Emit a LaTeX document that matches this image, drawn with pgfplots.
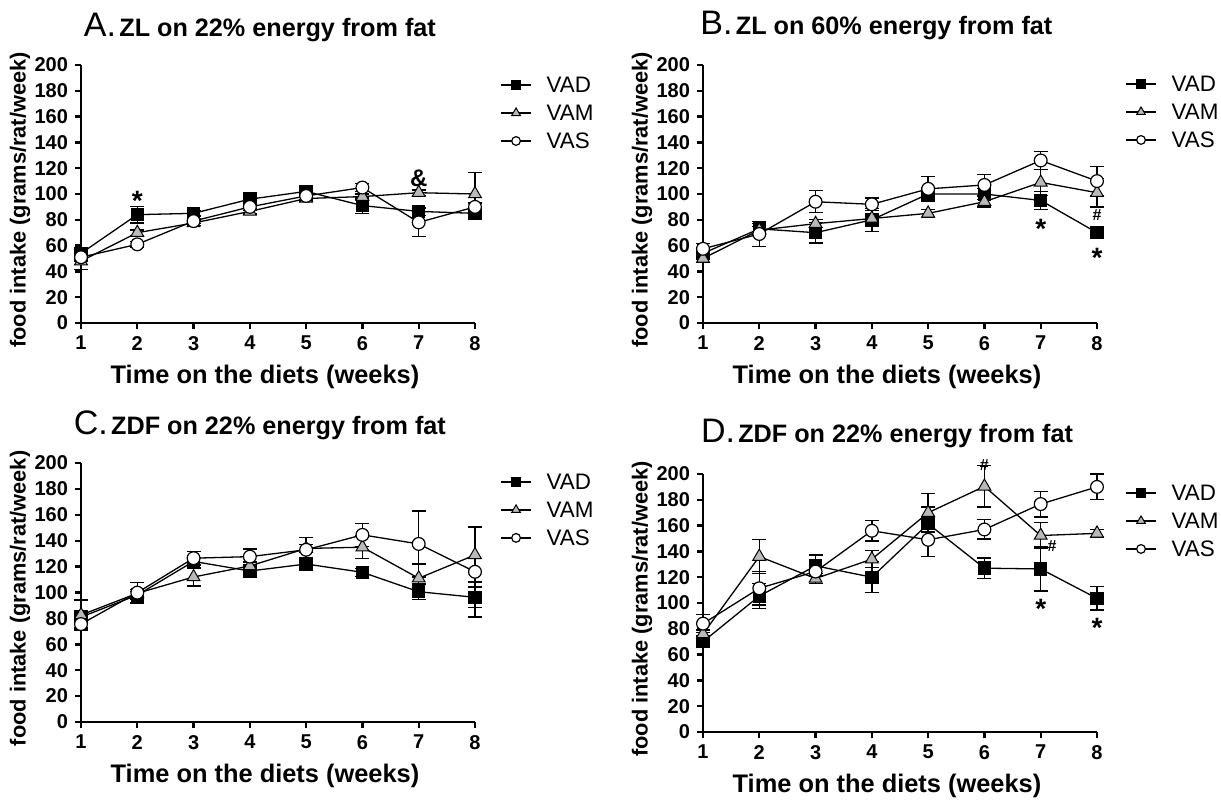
\documentclass[border=0pt]{standalone}
\usepackage{fontspec}
\setmainfont{Liberation Sans}
\usepackage{pgfplots}
\pgfplotsset{compat=1.18}
\pgfplotsset{
  panel/.style={
    scale only axis, width=197pt, height=129pt, anchor=south west,
    xmin=1, xmax=8, ymin=0, ymax=200,
    axis x line*=bottom, axis y line*=left,
    axis line style={line width=1.2pt},
    xtick={1,...,8}, ytick={0,20,...,200},
    tick align=outside, major tick length=3pt,
    major tick style={line width=1.2pt, black},
    ticklabel style={font=\bfseries\fontsize{10}{11}\selectfont},
    /pgf/number format/assume math mode=true,
    xlabel={Time on the diets (weeks)},
    ylabel={food intake (grams/rat/week)},
    xlabel style={font=\bfseries\fontsize{12.7}{14}\selectfont, at={(axis description cs:0.467,0)}, anchor=base, yshift=-30pt},
    ylabel style={font=\bfseries\fontsize{10.9}{12}\selectfont, at={(axis description cs:-0.1548,0.477)}, anchor=center},
    clip=false,
    legend cell align=left,
    legend style={draw=none, fill=none, font=\fontsize{11.2}{13}\selectfont, anchor=west, inner sep=0pt, row sep=6pt,
      nodes={inner sep=0pt, text height=8pt, text depth=0pt},
      /tikz/every odd column/.append style={column sep=7.5pt}},
    legend image code/.code={\draw[line width=0.65pt, mark repeat=2, mark phase=2, ##1, every mark/.append style={scale=0.68}] plot coordinates {(0pt,0pt) (7.5pt,0pt) (15pt,0pt)};},
  },
  eb/.style={line width=0.65pt, black, error bars/y dir=both, error bars/y explicit,
    error bars/error bar style={line width=0.65pt},
    error bars/error mark options={line width=0.65pt, mark size=3.5pt, rotate=90}},
  vad/.style={eb, mark=square*, mark size=3.1pt, mark options={fill=black, draw=black, line width=0.5pt}},
  vam/.style={eb, mark=triangle*, mark size=3.7pt, mark options={fill=gray!55, draw=black, line width=0.5pt}},
  vas/.style={eb, mark=*, mark size=3.2pt, mark options={fill=white, draw=black, line width=0.6pt}},
}
\newcommand{\ttl}[2]{{\fontsize{17}{18}\selectfont #1}\,{\bfseries\fontsize{12.6}{14}\selectfont #2}}
\begin{document}
\begin{tikzpicture}
\path[use as bounding box] (0,0) rectangle (610.5pt,399.5pt);
% ---------------- A
\begin{axis}[panel, at={(40.5pt,238pt)},
  title={\ttl{A.}{ZL on 22\% energy from fat}},
  title style={at={(axis description cs:0.454,1)}, anchor=base, yshift=8.5pt},
  legend style={at={(axis description cs:1.0635,0.814)}}]
\addplot[vad] coordinates {(1,54) +- (0,3) (2,84) +- (0,6.5) (3,85) +- (0,2) (4,96) +- (0,2) (5,102) +- (0,2) (6,91) +- (0,6) (7,86.5) +- (0,3) (8,85) +- (0,3)};
\addlegendentry{VAD}
\addplot[vam] coordinates {(1,48) +- (0,6.4) (2,70) +- (0,2) (3,77.5) +- (0,2) (4,86.5) +- (0,2) (5,96.5) +- (0,2) (6,98) +- (0,2) (7,101) +- (0,2) (8,100) +- (0,16.6)};
\addlegendentry{VAM}
\addplot[vas] coordinates {(1,51) +- (0,3) (2,61) +- (0,2) (3,79) +- (0,2) (4,90) +- (0,3) (5,98.5) +- (0,3) (6,105) +- (0,3) (7,78) +- (0,11) (8,90) +- (0,3)};
\addlegendentry{VAS}
\node[font=\bfseries\fontsize{14}{14}\selectfont, yshift=-3pt] at (axis cs:2,99) {*};
\node[font=\bfseries\fontsize{12}{12}\selectfont] at (axis cs:7,112) {\&};
\end{axis}
% ---------------- B
\begin{axis}[panel, at={(351.5pt,238pt)},
  title={\ttl{B.}{ZL on 60\% energy from fat}},
  title style={at={(axis description cs:0.44,1)}, anchor=base, yshift=9.5pt},
  legend style={at={(axis description cs:1.071,0.818)}}]
\addplot[vad] coordinates {(1,54) +- (0,3) (2,73) +- (0,4) (3,70) +- (0,8) (4,80) +- (0,9) (5,100) +- (0,5) (6,100) +- (0,4) (7,95) +- (0,7) (8,70) +- (0,3)};
\addlegendentry{VAD}
\addplot[vam] coordinates {(1,50) +- (0,3) (2,72) +- (0,3) (3,77) +- (0,3) (4,81) +- (0,3) (5,85) +- (0,3) (6,94) +- (0,4) (7,109) +- (0,10) (8,101) +- (0,11)};
\addlegendentry{VAM}
\addplot[vas] coordinates {(1,57.5) +- (0,4) (2,69) +- (0,9.5) (3,94) +- (0,8.5) (4,92) +- (0,5) (5,104) +- (0,9.5) (6,107) +- (0,8) (7,126) +- (0,7) (8,110) +- (0,11.5)};
\addlegendentry{VAS}
\node[font=\bfseries\fontsize{14}{14}\selectfont, yshift=-3pt] at (axis cs:7,78) {*};
\node[font=\bfseries\fontsize{14}{14}\selectfont, yshift=-3pt] at (axis cs:8,55) {*};
\node[font=\bfseries\fontsize{8}{8}\selectfont] at (axis cs:8,84) {\#};
\end{axis}
% ---------------- C
\begin{axis}[panel, at={(40.5pt,38.5pt)}, height=129.5pt,
  title={\ttl{C.}{ZDF on 22\% energy from fat}},
  title style={at={(axis description cs:0.454,1)}, anchor=base, yshift=8.5pt},
  legend style={at={(axis description cs:1.0635,0.819)}}]
\addplot[vad] coordinates {(1,81) +- (0,3) (2,98) +- (0,3) (3,124) +- (0,3) (4,116.6) +- (0,3) (5,122) +- (0,3) (6,115.6) +- (0,3) (7,100.6) +- (0,6) (8,96.3) +- (0,8)};
\addlegendentry{VAD}
\addplot[vam] coordinates {(1,82.6) +- (0,11.5) (2,99.4) +- (0,3) (3,112) +- (0,7) (4,120.5) +- (0,3) (5,134) +- (0,3) (6,135) +- (0,9) (7,111) +- (0,11) (8,129) +- (0,21)};
\addlegendentry{VAM}
\addplot[vas] coordinates {(1,75.6) +- (0,3) (2,99.9) +- (0,8) (3,126.5) +- (0,5) (4,127.7) +- (0,6) (5,133) +- (0,9.5) (6,144.5) +- (0,9) (7,137.5) +- (0,25.5) (8,116) +- (0,35)};
\addlegendentry{VAS}
\end{axis}
% ---------------- D
\begin{axis}[panel, at={(351.5pt,33.5pt)},
  title={\ttl{D.}{ZDF on 22\% energy from fat}},
  title style={at={(axis description cs:0.467,1)}, anchor=base, yshift=10pt},
  legend style={at={(axis description cs:1.071,0.818)}}]
\addplot[vad] coordinates {(1,70) +- (0,3) (2,105.4) +- (0,9.6) (3,128.8) +- (0,8.5) (4,120) +- (0,12) (5,161.4) +- (0,13) (6,127) +- (0,8) (7,126.4) +- (0,17) (8,103.6) +- (0,9)};
\addlegendentry{VAD}
\addplot[vam] coordinates {(1,76) +- (0,3) (2,136) +- (0,13) (3,119) +- (0,4) (4,134) +- (0,6.5) (5,170) +- (0,15) (6,190.4) +- (0,16) (7,152.3) +- (0,10) (8,154) +- (0,3)};
\addlegendentry{VAM}
\addplot[vas] coordinates {(1,84) +- (0,7) (2,111.4) +- (0,13) (3,124.4) +- (0,3) (4,156) +- (0,8) (5,149) +- (0,13) (6,157) +- (0,7.5) (7,176.7) +- (0,10) (8,190) +- (0,10)};
\addlegendentry{VAS}
\node[font=\bfseries\fontsize{8}{8}\selectfont] at (axis cs:6,207) {\#};
\node[font=\bfseries\fontsize{8}{8}\selectfont] at (axis cs:7.2,144) {\#};
\node[font=\bfseries\fontsize{14}{14}\selectfont, yshift=-3pt] at (axis cs:7,100) {*};
\node[font=\bfseries\fontsize{14}{14}\selectfont, yshift=-3pt] at (axis cs:8,85) {*};
\end{axis}
\end{tikzpicture}
\end{document}
